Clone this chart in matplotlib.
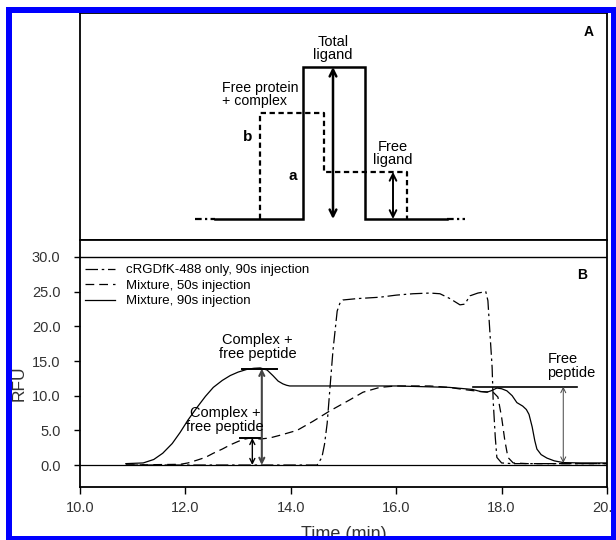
import numpy as np
import matplotlib
matplotlib.use("Agg")
import matplotlib.pyplot as plt
from matplotlib.patches import Rectangle

plt.rcParams['font.family'] = ['Liberation Sans', 'DejaVu Sans']
plt.rcParams['font.size'] = 9

W, H = 616, 540

# ---- panel B data (time in min, RFU) ----
time_only = [10.87, 14.5, 14.59, 14.64, 14.69, 14.74, 14.8, 14.88, 14.93, 14.99, 15.26, 15.69,
             16.0, 16.32, 16.64, 16.83, 17.02, 17.21, 17.3, 17.4, 17.55, 17.7, 17.74, 17.78,
             17.82, 17.84, 17.88, 17.91, 18.0, 18.2, 20.0]
rfu_only = [0.0, 0.0, 1.1, 3.0, 6.0, 10.8, 16.5, 22.2, 23.3, 23.8, 24.0, 24.2,
            24.5, 24.7, 24.8, 24.7, 24.0, 23.1, 23.2, 24.4, 24.8, 25.0, 23.7, 18.9,
            14.1, 9.3, 4.0, 1.1, 0.3, 0.2, 0.2]

time_50s = [10.87, 11.9, 12.05, 12.22, 12.38, 12.53, 12.7, 12.85, 13.0, 13.1, 13.2, 13.3, 13.42,
            13.6, 13.8, 14.12, 14.42, 14.74, 14.93, 15.12, 15.37, 15.69, 16.0, 16.64, 17.0,
            17.27, 17.59, 17.84, 17.93, 18.0, 18.06, 18.12, 18.22, 18.5, 20.0]
rfu_50s = [0.0, 0.1, 0.3, 0.7, 1.1, 1.7, 2.3, 2.9, 3.4, 3.7, 3.85, 3.9, 3.75,
           3.9, 4.3, 5.0, 6.3, 7.8, 8.6, 9.4, 10.5, 11.2, 11.4, 11.4, 11.2,
           10.9, 10.6, 10.5, 9.8, 6.9, 3.6, 1.1, 0.3, 0.2, 0.2]

time_90s = [10.87, 11.2, 11.4, 11.57, 11.75, 11.9, 12.05, 12.22, 12.38, 12.53, 12.7, 12.85, 13.0,
            13.17, 13.3, 13.42, 13.55, 13.66, 13.76, 13.85, 13.92, 13.98, 14.5, 15.0, 16.0, 17.0,
            17.45, 17.6, 17.72, 17.8, 17.91, 18.0, 18.1, 18.2, 18.29, 18.4, 18.47, 18.52, 18.58,
            18.63, 18.67, 18.75, 18.86, 19.0, 19.17, 19.5, 20.0]
rfu_90s = [0.2, 0.3, 0.8, 1.7, 3.1, 4.7, 6.5, 8.3, 9.9, 11.2, 12.2, 12.9, 13.4,
           13.8, 13.95, 14.0, 13.7, 12.9, 12.1, 11.7, 11.5, 11.4, 11.4, 11.4, 11.4, 11.2,
           10.9, 10.6, 10.5, 10.7, 11.1, 11.0, 10.7, 10.0, 9.0, 8.5, 8.0, 7.3, 5.5,
           3.5, 2.3, 1.5, 1.0, 0.6, 0.35, 0.3, 0.3]

legend_labels = ['cRGDfK-488 only, 90s injection', 'Mixture, 50s injection', 'Mixture, 90s injection']
x_ticks = [10, 12, 14, 16, 18, 20]
y_ticks = [0, 5, 10, 15, 20, 25, 30]

# annotation levels in panel B
peak90_t, peak90_rfu = 13.45, 13.9
peak50_t, peak50_rfu = 13.27, 3.9
free_t, free_rfu, free_base = 19.17, 11.3, 0.3

# ---- panel A schematic (x arbitrary, y relative height) ----
solid_x = [135, 223, 223, 285, 285, 367]
solid_y = [0, 0, 1.0, 1.0, 0, 0]
dashed_x = [180, 180, 244, 244, 327, 327]
dashed_y = [0, 0.70, 0.70, 0.31, 0.31, 0]
ext_left_x, ext_right_x = [115, 135], [367, 385]
total_x, free_x = 253, 313

fs_note = 10.5


def fx(px):
    return px / W


def fy(py):
    return 1 - py / H


fig = plt.figure(figsize=(W / 100, H / 100), dpi=100)

axA = fig.add_axes([fx(80), fy(240), fx(607) - fx(80), fy(13) - fy(240)])
axB = fig.add_axes([fx(80), fy(487), fx(607) - fx(80), fy(240) - fy(487)])

# panel A
axA.plot(solid_x, solid_y, color='black', lw=1.8, solid_joinstyle='miter')
axA.plot(dashed_x, dashed_y, color='black', lw=1.6, dashes=(2.4, 1.6))
axA.plot(ext_left_x, [0, 0], color='black', lw=1.6, dashes=(3, 1.5, 1, 1.5))
axA.plot(ext_right_x, [0, 0], color='black', lw=1.6, dashes=(3, 1.5, 1, 1.5))
axA.annotate('', xy=(total_x, 1.0), xytext=(total_x, 0),
             arrowprops=dict(arrowstyle='<->', lw=1.8, color='black', shrinkA=0, shrinkB=0,
                             mutation_scale=12))
axA.annotate('', xy=(free_x, 0.31), xytext=(free_x, 0),
             arrowprops=dict(arrowstyle='<->', lw=1.4, color='black', shrinkA=0, shrinkB=0,
                             mutation_scale=12))
axA.text(total_x, 1.03, 'Total\nligand', ha='center', va='bottom', linespacing=0.95, fontsize=fs_note)
axA.text(142, 0.73, 'Free protein\n+ complex', ha='left', va='bottom', linespacing=0.95, fontsize=10.2)
axA.text(free_x, 0.34, 'Free\nligand', ha='center', va='bottom', linespacing=0.95, fontsize=fs_note)
axA.text(168, 0.54, 'b', ha='center', va='center', fontsize=11, fontweight='bold')
axA.text(213, 0.28, 'a', ha='center', va='center', fontsize=11, fontweight='bold')
axA.text(509, 1.23, 'A', ha='center', va='center', fontsize=10, fontweight='bold')
axA.set_xlim(0, 527)
axA.set_ylim(-0.138, 1.355)
axA.set_xticks([])
axA.set_yticks([])
for s in axA.spines.values():
    s.set_linewidth(1.3)

# panel B
axB.axhline(0, color='black', lw=0.9, zorder=1)
axB.axhline(30, color='black', lw=1.0, zorder=1)
l1, = axB.plot(time_only, rfu_only, color='black', lw=0.9, dashes=(10, 3, 2, 3))
l2, = axB.plot(time_50s, rfu_50s, color='black', lw=0.9, dashes=(7, 4))
l3, = axB.plot(time_90s, rfu_90s, color='black', lw=0.9)

axB.plot([13.07, 13.74], [peak90_rfu, peak90_rfu], color='black', lw=1.4)
axB.plot([13.04, 13.42], [peak50_rfu, peak50_rfu], color='black', lw=1.4)
axB.plot([17.46, 19.43], [free_rfu, free_rfu], color='black', lw=1.2)
axB.annotate('', xy=(peak90_t, peak90_rfu), xytext=(peak90_t, 0),
             arrowprops=dict(arrowstyle='<->', lw=1.5, color='#444444', shrinkA=0, shrinkB=0,
                             mutation_scale=9))
axB.annotate('', xy=(peak50_t, peak50_rfu), xytext=(peak50_t, 0),
             arrowprops=dict(arrowstyle='<->', lw=1.0, color='black', shrinkA=0, shrinkB=0,
                             mutation_scale=9))
axB.annotate('', xy=(free_t, free_rfu), xytext=(free_t, free_base),
             arrowprops=dict(arrowstyle='<->', lw=0.7, color='#444444', shrinkA=0, shrinkB=0,
                             mutation_scale=9))
axB.text(13.37, 16.95, 'Complex +\nfree peptide', ha='center', va='center', linespacing=1.0,
         fontsize=fs_note)
axB.text(12.75, 6.5, 'Complex +\nfree peptide', ha='center', va='center', linespacing=1.0,
         fontsize=fs_note)
axB.text(18.87, 14.3, 'Free\npeptide', ha='left', va='center', linespacing=1.0, fontsize=fs_note)
axB.text(19.53, 27.4, 'B', ha='center', va='center', fontsize=10, fontweight='bold')

axB.legend([l1, l2, l3], legend_labels, loc='upper left', frameon=False,
           bbox_to_anchor=(-0.006, 0.935), handlelength=2.3, handletextpad=0.8,
           labelspacing=0.25, borderaxespad=0.2, fontsize=9.5)

axB.set_xlim(10, 20)
axB.set_ylim(-3.17, 32.45)
axB.set_xticks(x_ticks)
axB.set_yticks(y_ticks)
axB.set_xticklabels(['%.1f' % v for v in x_ticks])
axB.set_yticklabels(['%.1f' % v for v in y_ticks])
axB.tick_params(axis='x', direction='out', length=5, width=1, pad=5, colors='black',
                labelcolor='#333333', labelsize=10.5)
axB.tick_params(axis='y', direction='out', length=4, width=1, pad=10, colors='black',
                labelcolor='#333333', labelsize=10.5)
axB.set_xlabel('Time (min)', labelpad=8, color='#333333', fontsize=13)
axB.set_ylabel('RFU', color='#333333', fontsize=12.5)
axB.yaxis.set_label_coords((27 - 80) / (607 - 80), 0.42)
for s in axB.spines.values():
    s.set_linewidth(1.3)

# blue frame around the whole picture
blue = '#0000ff'
for (x0, y0, x1, y1) in [(6, 7, 12, 540), (6, 7, 616, 13), (611, 7, 616, 540), (6, 536, 616, 540)]:
    fig.add_artist(Rectangle((fx(x0), fy(y1)), fx(x1) - fx(x0), fy(y0) - fy(y1),
                             transform=fig.transFigure, color=blue, lw=0, zorder=10))

fig.savefig('out.png', dpi=100)
